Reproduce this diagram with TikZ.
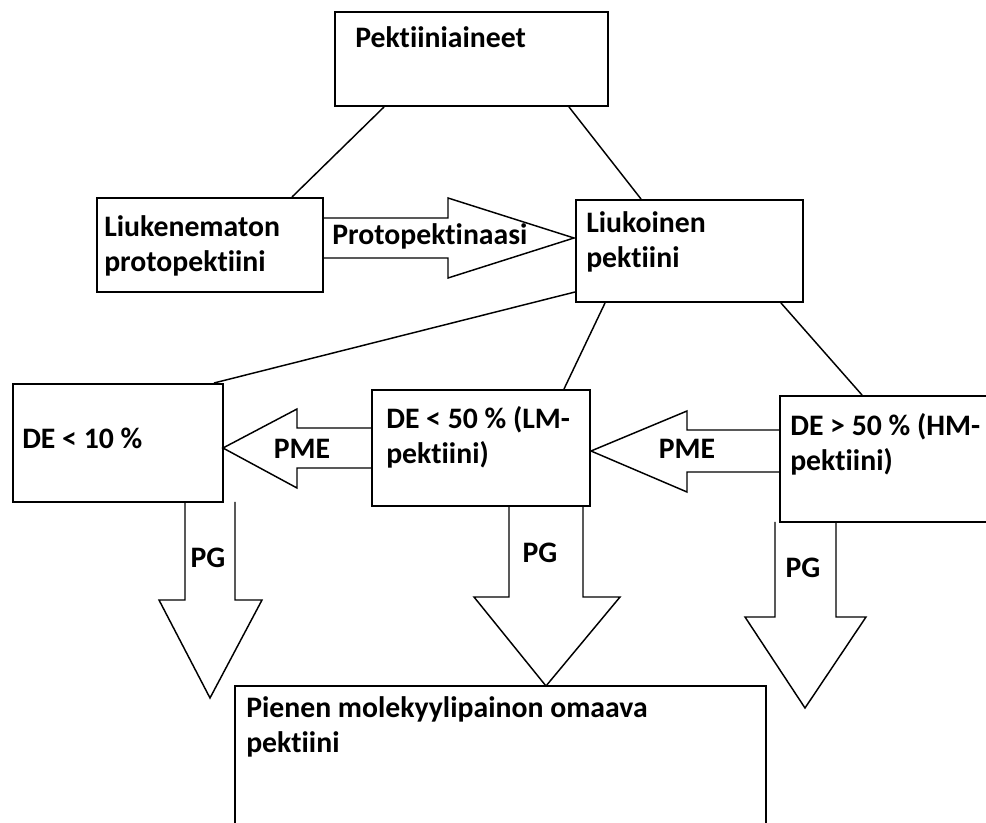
\documentclass[tikz,border=0pt]{standalone}
\usepackage{fontspec}
\setmainfont{Carlito}[Ligatures={CommonOff,ContextualOff}]
\usetikzlibrary{fit}

\begin{document}
\begin{tikzpicture}[x=0.75pt,y=-0.75pt]
\tikzstyle{every node}=[font=\fontsize{22.3}{26.25}\selectfont\bfseries, inner sep=0pt]
\tikzstyle{box}=[draw, line width=1.5pt]
\tikzstyle{txt}=[anchor=north west, align=left]
\tikzstyle{conn}=[line width=1.1pt]
\tikzstyle{fatarrow}=[line width=1.1pt, line join=miter]
\useasboundingbox (0,0) rectangle (986,823);
\clip (0,0) rectangle (986,823);

% boxes
\node[box, fit={(335,12) (608,106)}] (pekt) {};
\node[box, fit={(97,198) (323,292)}] (liuk) {};
\node[box, fit={(576,200) (803,302)}] (liuko) {};
\node[box, fit={(13,384) (223,502)}] (de10) {};
\node[box, fit={(372,390) (590,506)}] (lm) {};
\node[box, fit={(780,396) (1000,522)}] (hm) {};
\node[box, fit={(235,686) (766,840)}] (pien) {};

\node[txt] (pekt-t) at ([shift={(21,15)}]pekt.north west) {Pektiiniaineet};
\node[txt] (liuk-t) at ([shift={(8,18)}]liuk.north west) {Liukenematon\\protopektiini};
\node[txt] (liuko-t) at ([shift={(11,12)}]liuko.north west) {Liukoinen\\pektiini};
\node[txt] (de10-t) at ([shift={(10,45)}]de10.north west) {DE < 10 \%};
\node[txt] (lm-t) at ([shift={(15,17)}]lm.north west) {DE < 50 \% (LM-\\pektiini)};
\node[txt] (hm-t) at ([shift={(11,18)}]hm.north west) {DE > 50 \% (HM-\\pektiini)};
\node[txt] (pien-t) at ([shift={(12,11)}]pien.north west) {Pienen molekyylipainon omaava\\pektiini};

% connectors
\draw[conn] ([shift={(50,0)}]pekt.south west) -- ([shift={(196,0)}]liuk.north west);
\draw[conn] ([shift={(235,0)}]pekt.south west) -- ([shift={(66,0)}]liuko.north west);
\draw[conn] ([shift={(0,-11)}]liuko.south west) -- ([shift={(-10,0)}]de10.north east);
\draw[conn] ([shift={(30,0)}]liuko.south west) -- ([shift={(-27,0)}]lm.north east);
\draw[conn] ([shift={(206,0)}]liuko.south west) -- ([shift={(83,0)}]hm.north west);

% block arrows
\draw[fatarrow] (323,218) -- (448,218) -- (448,198) -- (574,238) -- (448,278) -- (448,258) -- (323,258);
\node[anchor=base west] (proto) at (332,245) {Protopektinaasi};

\draw[fatarrow] (372,428) -- (297,428) -- (297,409) -- (223,448) -- (297,488) -- (297,468) -- (372,468);
\node[anchor=base] (pme1) at (302,459) {PME};
\draw[fatarrow] (780,430) -- (687,430) -- (687,411) -- (591,451) -- (687,492) -- (687,472) -- (780,472);
\node[anchor=base] (pme2) at (687,459) {PME};

\draw[fatarrow] (185,502) -- (185,600) -- (159,600) -- (210,698) -- (262,600) -- (235,600) -- (235,502);
\node[anchor=base] (pg1) at (208,567) {PG};
\draw[fatarrow] (509,506) -- (509,597) -- (474,597) -- (546,686) -- (620,597) -- (583,597) -- (583,506);
\node[anchor=base] (pg2) at (540,563) {PG};
\draw[fatarrow] (775,522) -- (775,617) -- (745,617) -- (805,708) -- (866,617) -- (836,617) -- (836,522);
\node[anchor=base] (pg3) at (803,578) {PG};
\end{tikzpicture}
\end{document}
